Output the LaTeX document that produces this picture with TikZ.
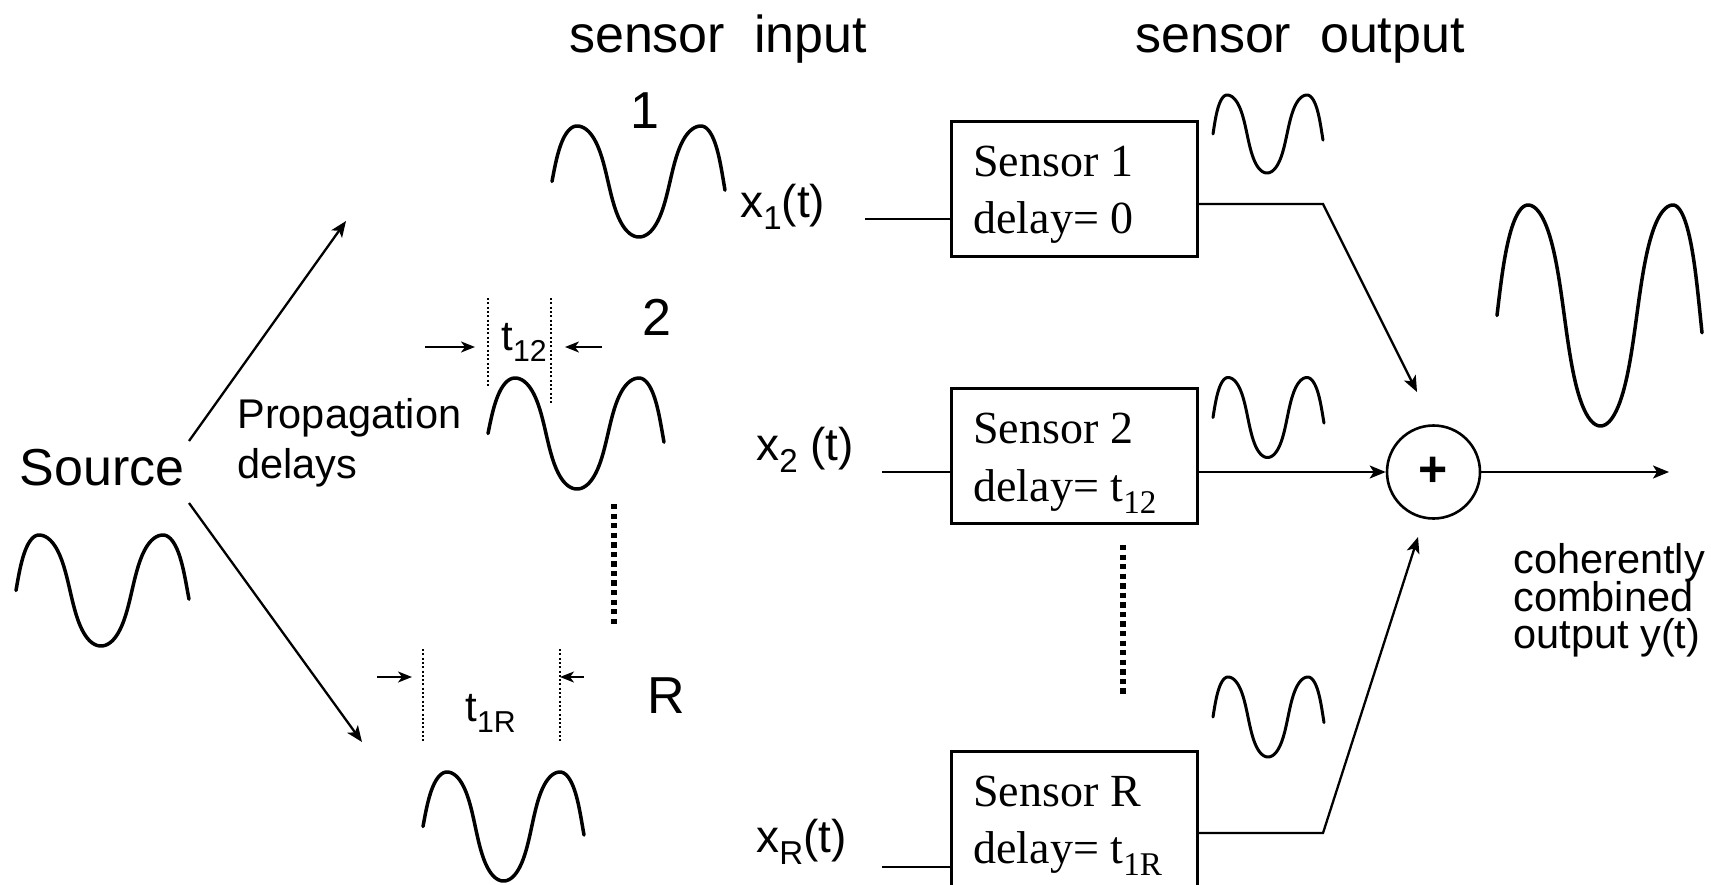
\documentclass[tikz,border=0pt]{standalone}
\usepackage{fontspec}
\setmainfont{Liberation Sans}
\newfontfamily\tms{Liberation Serif}
\usetikzlibrary{arrows.meta}

\newcommand{\dn}[1]{\raisebox{-0.27em}{\scalebox{0.72}{#1}}}
\newcommand{\tightls}{\lineskiplimit=-20pt\relax}
% wave: xl, xp1, xp2, xr, yc, A, th0, th1, style  (warped cosine: round tops, steep sides)
\newcommand{\wave}[9]{%
  \draw[#9] plot[domain=#7:0, samples=30] ({#2+(#1-#2)*((\x+10*sin(2*\x))/(#7+10*sin(2*#7)))}, {#5-#6*cos(\x)})
   -- plot[domain=0:360, samples=100] ({#2+(#3-#2)*((\x+10*sin(2*\x))/360)}, {#5-#6*cos(\x)})
   -- plot[domain=0:#8, samples=30] ({#3+(#4-#3)*((\x+10*sin(2*\x))/(#8+10*sin(2*#8)))}, {#5-#6*cos(\x)});}

\tikzset{
  big/.style={font=\fontsize{26}{31}\selectfont, inner sep=0pt},
  mid/.style={font=\fontsize{20.75}{25}\selectfont\tightls, inner sep=0pt, align=left},
  tight/.style={font=\fontsize{20.75}{18.75}\selectfont\tightls, inner sep=0pt, align=left},
  lab/.style={font=\fontsize{21}{25}\selectfont, inner sep=0pt},
  xlab/.style={font=\fontsize{23}{27}\selectfont, inner sep=0pt},
  tm/.style={font=\tms\fontsize{23}{28}\selectfont, inner sep=0pt},
  box/.style={draw, line width=1.5pt, minimum width=123pt, minimum height=67.5pt, inner sep=0pt},
  wv/.style={line width=1.75pt, line cap=round, line join=round},
  wvs/.style={line width=1.5pt, line cap=round, line join=round},
  arr/.style={line width=1.15pt, -{Stealth[length=8pt,width=6.5pt,inset=2pt]}},
  tarr/.style={line width=1pt, -{Stealth[length=7pt,width=5.5pt,inset=2pt]}},
  ln/.style={line width=1.15pt},
  tdots/.style={line width=1pt, dash pattern=on 1pt off 1.15pt},
  bdots/.style={line width=2.65pt, dash pattern=on 2.65pt off 2.13pt},
}

\begin{document}
\begin{tikzpicture}[x=0.5pt, y=-0.5pt]
\useasboundingbox (0,0) rectangle (1711,884);
\clip (0,0) rectangle (1711,884);

% headings
\node[big, anchor=base] (hin) at (718,52) {sensor\ \ input};
\node[big, anchor=base] (hout) at (1300,52) {sensor\ \ output};

% source
\node[big, anchor=base] (src) at (102,485) {Source};
\wave{16}{39}{163}{189}{590.5}{55.5}{-90}{99}{wv}
\coordinate (u0) at (189,441);
\coordinate (u1) at (346,221);
\coordinate (l0) at (189,503);
\coordinate (l1) at (362,742);
\draw[arr] (u0) -- (u1);
\draw[arr] (l0) -- (l1);
\node[mid, anchor=north west] (pd) at (237,398.3) {Propagation\\delays};

% sensor inputs
\node[big, anchor=base] (n1) at (645,128) {1};
\wave{552}{577}{701}{725}{181.5}{55.5}{-90}{99}{wv}
\node[big, anchor=base] (n2) at (657,335) {2};
\wave{488}{515}{639}{664}{433.5}{55.5}{-90}{99}{wv}
\node[big, anchor=base] (nR) at (666,713) {R};
\wave{423}{447}{560}{584}{826.5}{54.5}{-90}{99}{wv}

% t12 marks
\draw[tdots] (488,298) -- (488,388);
\draw[tdots] (551,298) -- (551,405);
\coordinate (ta1) at (425,347); \coordinate (ta2) at (475,347);
\coordinate (tb1) at (602,347); \coordinate (tb2) at (565,347);
\draw[tarr] (ta1) -- (ta2);
\draw[tarr] (tb1) -- (tb2);
\node[lab, anchor=base west] (t12) at (501,350) {t\dn{12}};

% t1R marks
\draw[tdots] (423,649) -- (423,742);
\draw[tdots] (560,649) -- (560,742);
\coordinate (tc1) at (377,677); \coordinate (tc2) at (412,677);
\coordinate (td1) at (584,677); \coordinate (td2) at (560,677);
\draw[tarr] (tc1) -- (tc2);
\draw[tarr] (td1) -- (td2);
\node[lab, anchor=base west] (t1R) at (465,721) {t\dn{1R}};

\draw[bdots] (614,504) -- (614,624);

% x labels
\node[xlab, anchor=base west] (x1) at (740,217) {x\dn{1}(t)};
\node[xlab, anchor=base west] (x2) at (756,460) {x\dn{2} (t)};
\node[xlab, anchor=base west] (xR) at (756,852) {x\dn{R}(t)};

% sensor boxes
\node[box] (s1) at (1074,188.5) {};
\node[tm, anchor=base west] (s1a) at (973,176) {Sensor 1};
\node[tm, anchor=base west] (s1b) at (973,233) {delay= 0};
\node[box] (s2) at (1074,455.5) {};
\node[tm, anchor=base west] (s2a) at (973,443) {Sensor 2};
\node[tm, anchor=base west] (s2b) at (973,501) {delay= t\dn{12}};
\node[box] (sR) at (1074,818.5) {};
\node[tm, anchor=base west] (sRa) at (973,806) {Sensor R};
\node[tm, anchor=base west] (sRb) at (973,863) {delay= t\dn{1R}};

\draw[bdots] (1123,545) -- (1123,697);

% inputs to boxes
\coordinate (c1) at (865,219);
\coordinate (c2) at (882,472);
\coordinate (cR) at (882,867);
\draw[ln] (c1) -- (c1 -| s1.west);
\draw[ln] (c2) -- (c2 -| s2.west);
\draw[ln] (cR) -- (cR -| sR.west);

% output waves
\wave{1213}{1227}{1307}{1323}{134}{39}{-90}{99}{wvs}
\wave{1213}{1228}{1307}{1324}{417.5}{40}{-90}{98}{wvs}
\wave{1213}{1228}{1308}{1324}{717}{40}{-90}{98}{wvs}

% summer
\node[circle, draw, line width=1.3pt, minimum size=46.5pt, inner sep=0pt,
      font=\bfseries\fontsize{25}{30}\selectfont] (sum) at (1433.5,472) {+};

\coordinate (k1) at (1323,204);
\coordinate (a1) at (1417,392);
\coordinate (kR) at (1323,833);
\coordinate (aR) at (1418,537);
\draw[arr] (k1 -| s1.east) -- (k1) -- (a1);
\draw[arr] (sum.west -| s2.east) -- (sum.west);
\draw[arr] (kR -| sR.east) -- (kR) -- (aR);
\coordinate (yo) at (1669,472);
\draw[arr] (sum.east) -- (yo);

% combined output
\wave{1497}{1528}{1673}{1702}{315.5}{110.5}{-90}{99}{wv}
\node[tight, anchor=north west] (co) at (1513,543.3) {coherently\\combined\\output y(t)};
\end{tikzpicture}
\end{document}
